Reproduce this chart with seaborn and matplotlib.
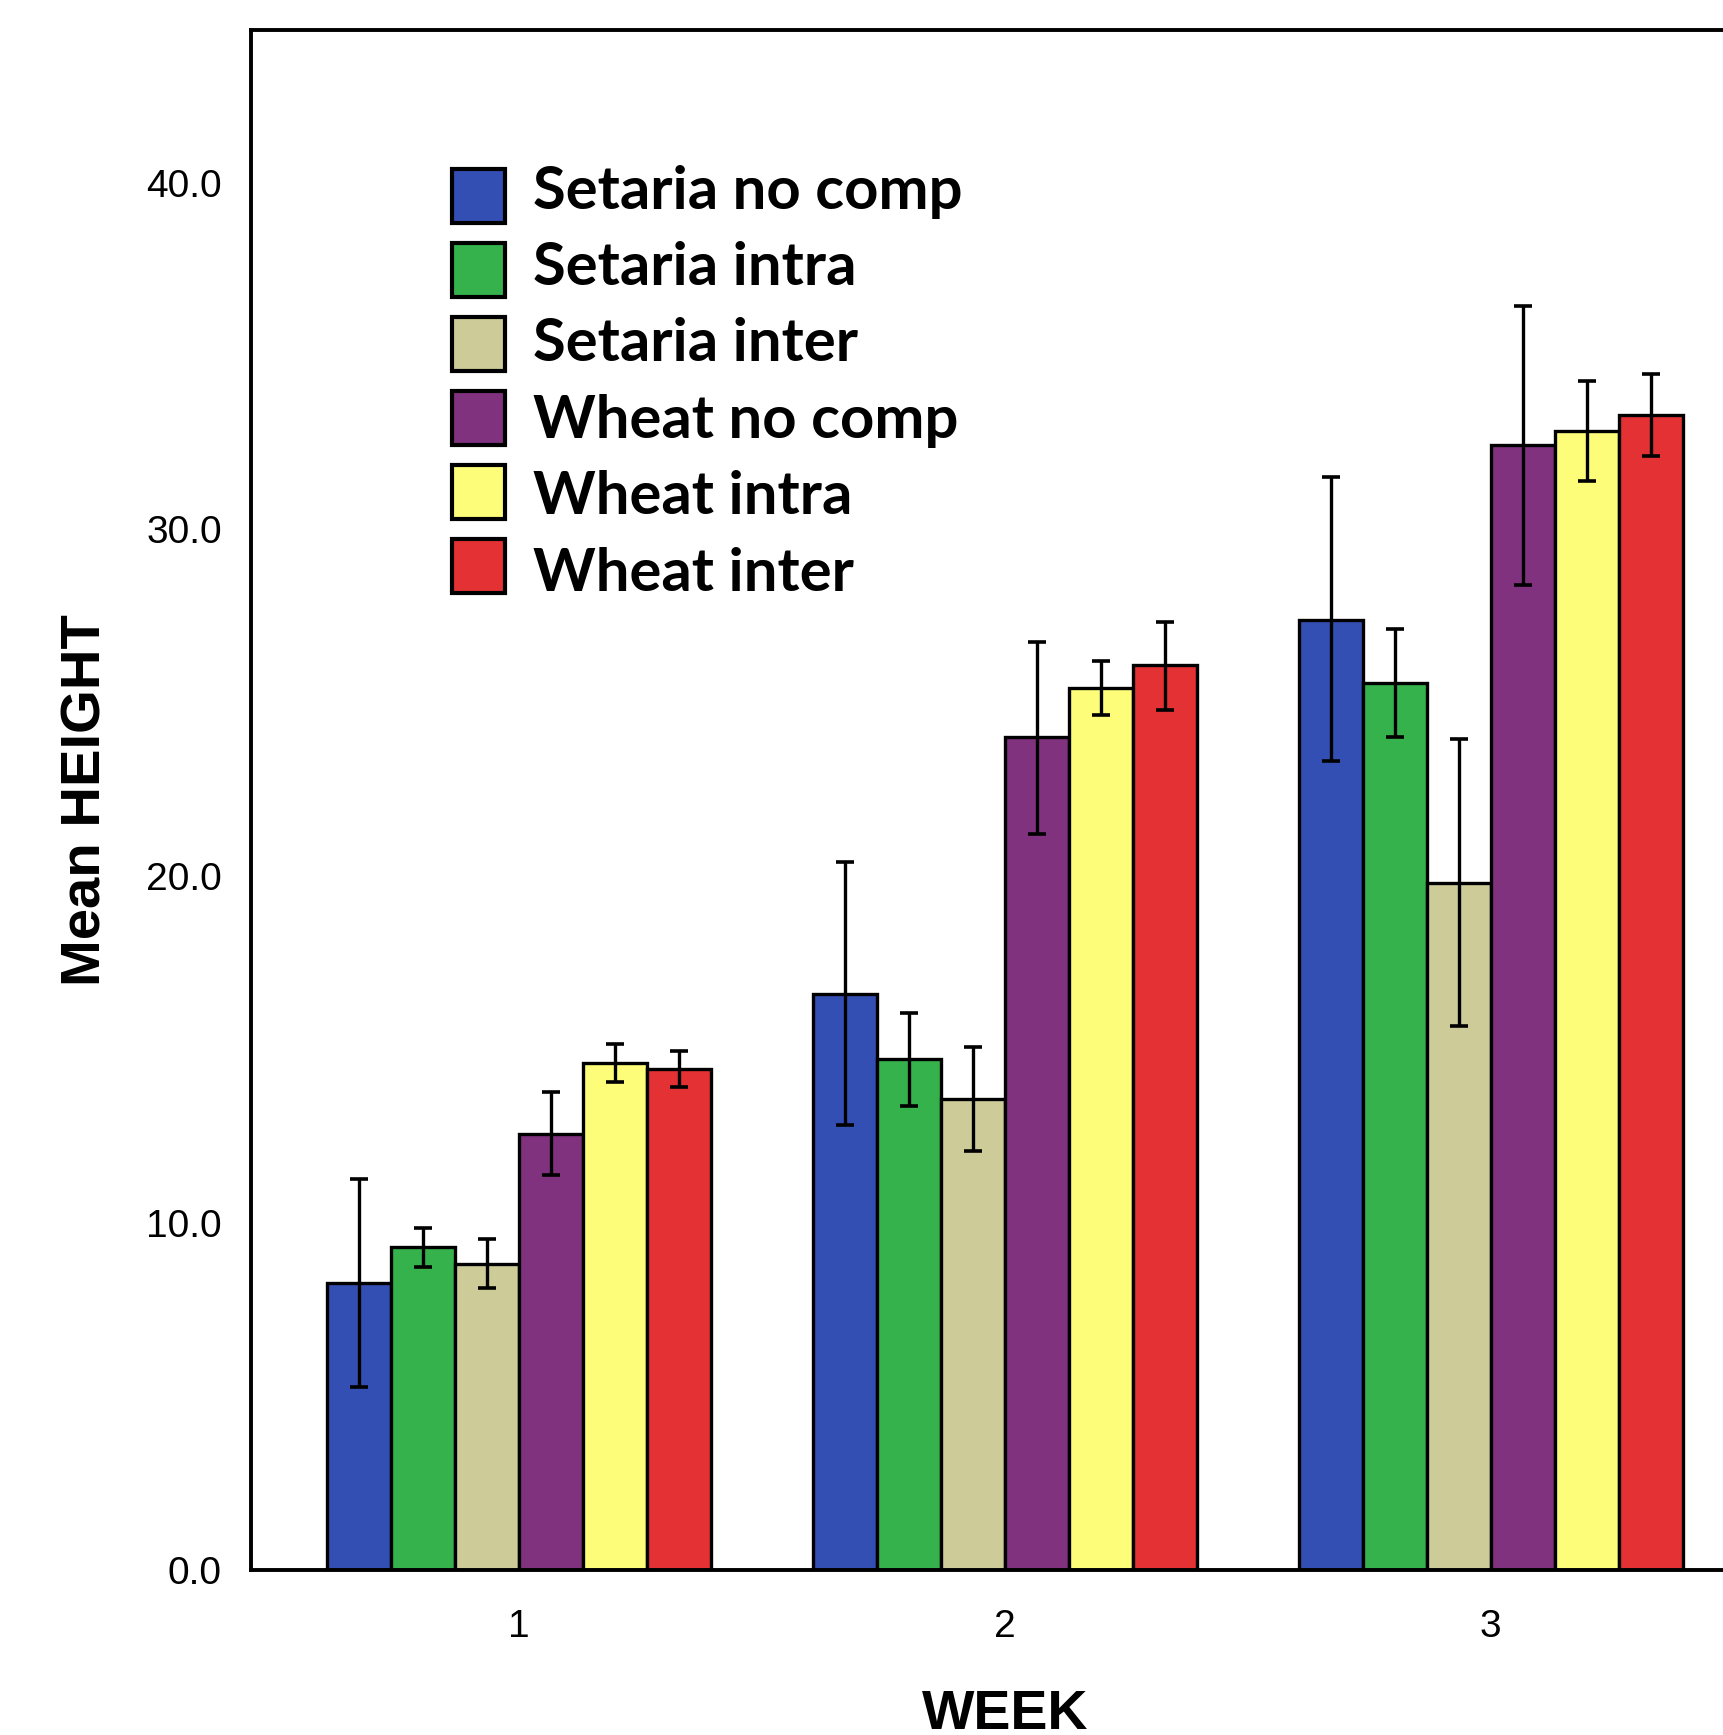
import pandas as pd
import matplotlib
matplotlib.use('Agg')
import matplotlib.pyplot as plt
from matplotlib.patches import Patch, Rectangle
from matplotlib.legend_handler import HandlerPatch
from matplotlib.ticker import FormatStrFormatter
import seaborn as sns

# categories
weeks = ['1', '2', '3']
groups = ['Setaria no comp', 'Setaria intra', 'Setaria inter',
          'Wheat no comp', 'Wheat intra', 'Wheat inter']
colors = ['#344FB3', '#35B24C', '#CDCB98', '#80327F', '#FEFD7A', '#E43234']

# mean height per group (same order as groups), one list per week
mean_week1 = [8.27, 9.31, 8.82, 12.57, 14.62, 14.44]
mean_week2 = [16.60, 14.72, 13.57, 24.01, 25.44, 26.08]
mean_week3 = [27.40, 25.58, 19.82, 32.43, 32.84, 33.29]

# error bar ends (lower / upper)
low_week1 = [5.27, 8.74, 8.12, 11.39, 14.08, 13.93]
high_week1 = [11.26, 9.86, 9.54, 13.79, 15.16, 14.95]
low_week2 = [12.83, 13.38, 12.07, 21.23, 24.64, 24.80]
high_week2 = [20.40, 16.06, 15.07, 26.75, 26.21, 27.33]
low_week3 = [23.32, 24.03, 15.67, 28.41, 31.41, 32.12]
high_week3 = [31.51, 27.14, 23.97, 36.44, 34.28, 34.48]

rows = []
for w, m, lo, hi in zip(weeks, [mean_week1, mean_week2, mean_week3],
                        [low_week1, low_week2, low_week3],
                        [high_week1, high_week2, high_week3]):
    for g, mv, lv, hv in zip(groups, m, lo, hi):
        rows.append({'WEEK': w, 'group': g, 'height': mv, 'low': lv, 'high': hv})
df = pd.DataFrame(rows)

sns.set_style('white')
plt.rcParams['font.family'] = ['Liberation Sans', 'DejaVu Sans']
plt.rcParams['text.color'] = 'black'
plt.rcParams['axes.labelcolor'] = 'black'

W, H = 1723, 1735
fig = plt.figure(figsize=(W / 100, H / 100), dpi=100)
# axes runs a little past the right edge, like the cropped original
ax = fig.add_axes([251 / W, 165 / H, (1759 - 251) / W, (1570 - 30) / H])

sns.barplot(data=df, x='WEEK', y='height', hue='group', order=weeks,
            hue_order=groups, palette=colors, saturation=1, width=0.79,
            edgecolor='black', linewidth=2.4, errorbar=None, legend=False, ax=ax)

bar_containers = list(ax.containers)
for cont, g in zip(bar_containers, groups):
    sub = df[df['group'] == g].set_index('WEEK').loc[weeks]
    xs = [b.get_x() + b.get_width() / 2 for b in cont]
    yerr = [sub['height'] - sub['low'], sub['high'] - sub['height']]
    ax.errorbar(xs, sub['height'], yerr=yerr, fmt='none', ecolor='black',
                elinewidth=2.4, capsize=6.2, capthick=2.6, zorder=5)

ax.set_xlim(-0.552, 2.552)
ax.set_ylim(0, 44.4)
ax.set_yticks([0, 10, 20, 30, 40])
ax.yaxis.set_major_formatter(FormatStrFormatter('%.1f'))

for s in ax.spines.values():
    s.set_linewidth(2.8)
    s.set_color('black')
ax.spines['right'].set_visible(False)

ax.tick_params(axis='both', direction='out', length=18, width=2.2,
               labelsize=28, colors='black')
ax.tick_params(axis='y', pad=3)
ax.tick_params(axis='x', pad=10)

ax.set_ylabel('Mean HEIGHT', fontsize=40.5, fontweight='bold', labelpad=24)
ax.set_xlabel('WEEK', fontsize=40, fontweight='bold', labelpad=32)

handles = [Patch(facecolor=c, edgecolor='black', linewidth=3.0) for c in colors]


def square(legend, orig_handle, xdescent, ydescent, width, height, fontsize):
    # square swatch; the swatch column is packed a little tighter than the text
    side = 38.5
    i = handles.index(orig_handle)
    return Rectangle((width / 2 - side / 2 - xdescent, -10.3 + 1.75 * i), side, side)


leg = ax.legend(handles, groups, loc='upper left', bbox_to_anchor=(0.131, 0.917),
                frameon=False, borderpad=0, borderaxespad=0, handlelength=1.0,
                handleheight=1.2, handletextpad=0.41, labelspacing=0.255,
                handler_map={Patch: HandlerPatch(patch_func=square)},
                prop={'family': 'Lato', 'weight': 'bold', 'size': 43})

fig.savefig('out.png', dpi=100)
